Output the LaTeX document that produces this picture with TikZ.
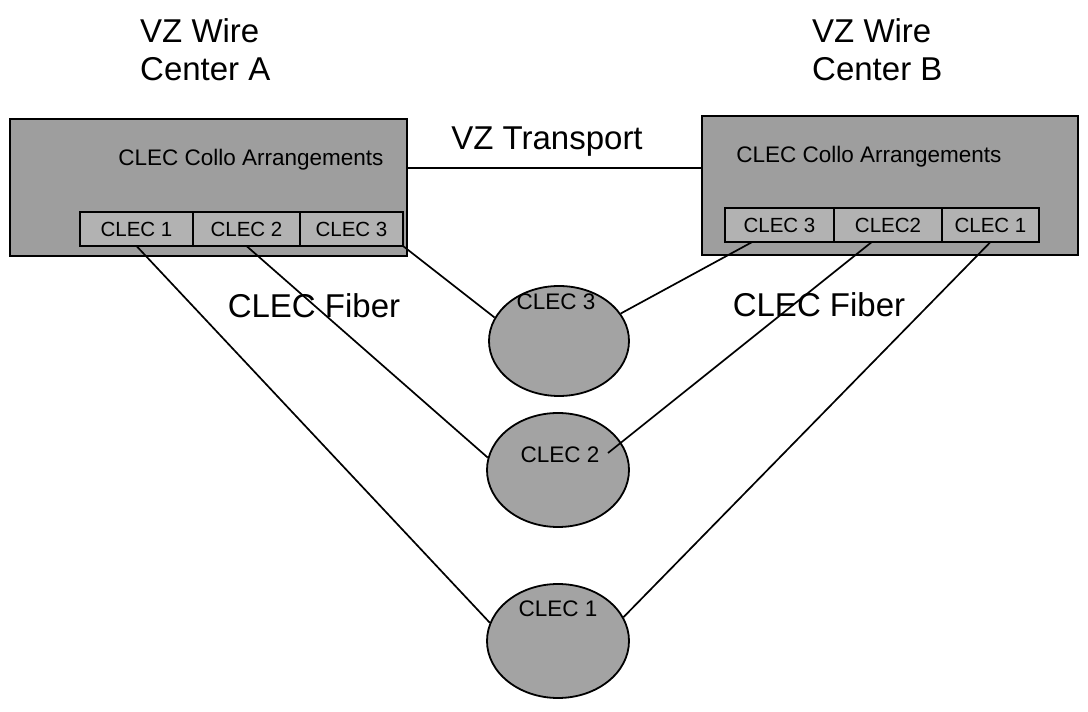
\documentclass[tikz,border=0pt]{standalone}
\usepackage{fontspec}
\setmainfont{Liberation Sans}
\usepackage{tikz}
\usetikzlibrary{positioning,shapes.geometric,calc}

\begin{document}
\begin{tikzpicture}[x=1pt,y=1pt,
    collobox/.style={draw, line width=2.4pt, fill=black!38, inner sep=0pt},
    clecslot/.style={draw, line width=1.8pt, fill=black!30, minimum height=34pt, inner sep=0pt, outer sep=0pt, font=\fontsize{20.5}{23}\selectfont},
    clecdisk/.style={ellipse, draw, line width=1.8pt, fill=black!36, inner sep=0pt},
    bigtext/.style={font=\fontsize{33}{38}\selectfont, inner sep=0pt},
    midtext/.style={font=\fontsize{22.5}{26}\selectfont, inner sep=0pt},
    fiber/.style={line width=1.7pt}]
    \useasboundingbox (0,0) rectangle (1088,712);

    \node[bigtext, align=left, anchor=base west] (wcA) at (140,631) {VZ Wire\\Center A};
    \node[bigtext, align=left, anchor=base west] (wcB) at (812,631) {VZ Wire\\Center B};

    \node[collobox, minimum width=397pt, minimum height=137pt] (boxA) at (208.5,524.5) {};
    \node[collobox, minimum width=376pt, minimum height=139pt] (boxB) at (890,526.5) {};
    \node[midtext] (titleA) at (251,552) {CLEC Collo Arrangements};
    \node[midtext] (titleB) at (869,555) {CLEC Collo Arrangements};

    \node[clecslot, minimum width=113pt] (a1) at (136.5,483) {CLEC 1};
    \node[clecslot, minimum width=107pt, right=0pt of a1] (a2) {CLEC 2};
    \node[clecslot, minimum width=103pt, right=0pt of a2] (a3) {CLEC 3};
    \node[clecslot, minimum width=109pt] (b3) at (779.5,487) {CLEC 3};
    \node[clecslot, minimum width=108pt, right=0pt of b3] (b2) {CLEC2};
    \node[clecslot, minimum width=97pt, right=0pt of b2] (b1) {CLEC 1};

    \node[bigtext, anchor=base] (vzt) at (547,562) {VZ Transport};
    \coordinate (trunk) at (0,544);
    \draw[fiber] (boxA.east |- trunk) -- (boxB.west |- trunk);

    \node[clecdisk, minimum width=140pt, minimum height=110pt] (c3) at (559,371) {};
    \node[clecdisk, minimum width=142pt, minimum height=114pt] (c2) at (558,242) {};
    \node[clecdisk, minimum width=142pt, minimum height=114pt] (c1) at (558,71) {};
    \node[midtext] (c3t) at ($(c3.center)+(-3,39)$) {CLEC 3};
    \node[midtext] (c2t) at ($(c2.center)+(2,15)$) {CLEC 2};
    \node[midtext] (c1t) at ($(c1.center)+(0,32)$) {CLEC 1};

    \node[bigtext, anchor=base] (fibA) at (314,394) {CLEC Fiber};
    \node[bigtext, anchor=base] (fibB) at (819,395) {CLEC Fiber};

    \draw[fiber] (a1.south) -- (c1.165);
    \draw[fiber] (a2.south) -- (c2.170);
    \draw[fiber] (a3.south east) -- (c3.160);
    \draw[fiber] ($(b3.south west)!0.25!(b3.south east)$) -- (c3.24);
    \draw[fiber] ($(b2.south west)!0.35!(b2.south east)$) -- ($(c2.center)+(50,17)$);
    \draw[fiber] (b1.south) -- (c1.20);
\end{tikzpicture}
\end{document}
